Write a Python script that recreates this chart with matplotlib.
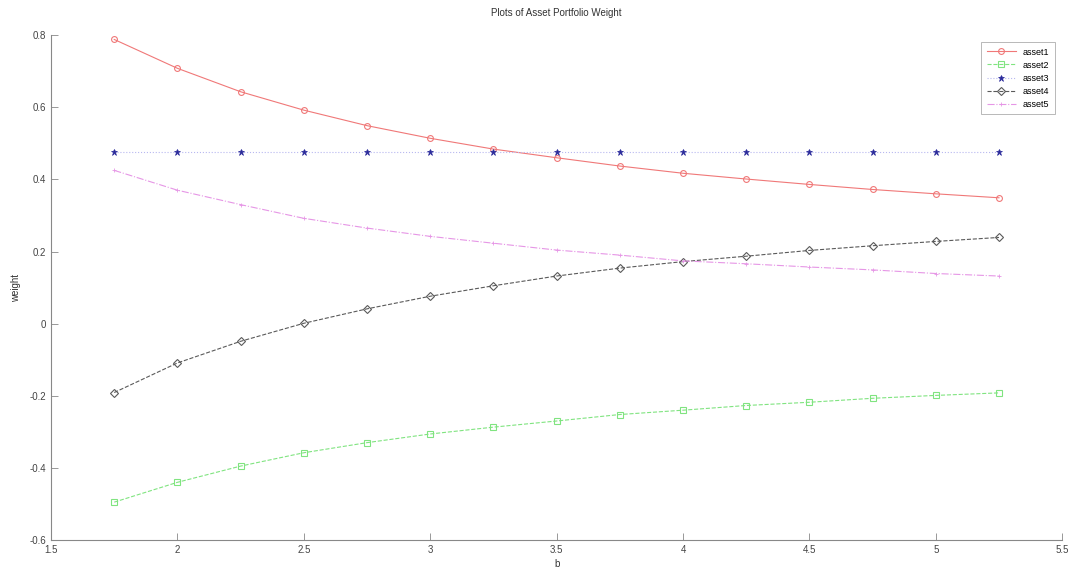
import numpy as np
import matplotlib
matplotlib.use("Agg")
import matplotlib.pyplot as plt

plt.rcParams["font.family"] = ["Liberation Sans", "DejaVu Sans"]

# valores de b (eixo x)
b = [1.75, 2.0, 2.25, 2.5, 2.75, 3.0, 3.25, 3.5, 3.75, 4.0, 4.25, 4.5, 4.75, 5.0, 5.25]

# pesos
asset1 = [0.788, 0.708, 0.643, 0.592, 0.549, 0.514, 0.484, 0.460, 0.437, 0.417,
          0.401, 0.386, 0.372, 0.360, 0.349]
asset2 = [-0.495, -0.440, -0.395, -0.358, -0.330, -0.306, -0.287, -0.270, -0.252, -0.240,
          -0.227, -0.218, -0.207, -0.199, -0.192]
asset3 = [0.475] * 15
asset4 = [-0.191, -0.109, -0.049, 0.001, 0.041, 0.076, 0.105, 0.132, 0.154, 0.172,
          0.187, 0.203, 0.216, 0.228, 0.239]
asset5 = [0.425, 0.370, 0.330, 0.292, 0.265, 0.242, 0.223, 0.204, 0.190, 0.174,
          0.166, 0.157, 0.149, 0.139, 0.132]

labels = ["asset1", "asset2", "asset3", "asset4", "asset5"]

fig = plt.figure(figsize=(10.7, 5.77), dpi=100)
ax = fig.add_axes([0.0477, 0.0641, 0.945, 0.875])

ax.plot(b, asset1, "-", marker="o", color="#f07878", lw=0.8, ms=4.2,
        mfc="none", mew=0.8, label=labels[0])
ax.plot(b, asset2, "--", marker="s", color="#80e480", lw=0.8, ms=3.8,
        mfc="none", mew=0.8, label=labels[1])
ax.plot(b, asset3, ":", marker="*", color="#b8b8f0", lw=0.8, ms=4.5,
        mfc="#2a2a9a", mec="#2a2a9a", mew=0.5, label=labels[2])
ax.plot(b, asset4, "--", marker="D", color="#5a5a5a", lw=0.8, ms=3.6,
        mfc="none", mew=0.8, label=labels[3])
ax.plot(b, asset5, "-.", marker="+", color="#e696e6", lw=0.8, ms=3.2,
        mew=0.6, label=labels[4])

ax.set_xlim(1.5, 5.5)
ax.set_ylim(-0.6, 0.8)
ax.set_xticks(np.arange(1.5, 5.51, 0.5))
ax.set_yticks(np.arange(-0.6, 0.81, 0.2))
ax.set_xticklabels(["1.5", "2", "2.5", "3", "3.5", "4", "4.5", "5", "5.5"])
ax.set_yticklabels(["-0.6", "-0.4", "-0.2", "0", "0.2", "0.4", "0.6", "0.8"])

for s in ["top", "right"]:
    ax.spines[s].set_visible(False)
for s in ["left", "bottom"]:
    ax.spines[s].set_color("#888888")
    ax.spines[s].set_linewidth(0.8)

ax.tick_params(direction="in", length=5, width=0.6, colors="#888888",
               labelcolor="#444444", labelsize=7)

ax.set_xlabel("b", fontsize=7, color="#333333", labelpad=3)
ax.set_ylabel("weight", fontsize=7, color="#333333", labelpad=6)
ax.set_title("Plots of Asset Portfolio Weight", fontsize=7, color="#333333", pad=14)

leg = ax.legend(loc="upper right", fontsize=6.5, frameon=True, fancybox=False,
                handlelength=3.2, borderpad=0.6, labelspacing=0.45,
                bbox_to_anchor=(0.997, 0.995))
leg.get_frame().set_edgecolor("#999999")
leg.get_frame().set_linewidth(0.6)

fig.savefig("out.png", dpi=100, facecolor="white")
